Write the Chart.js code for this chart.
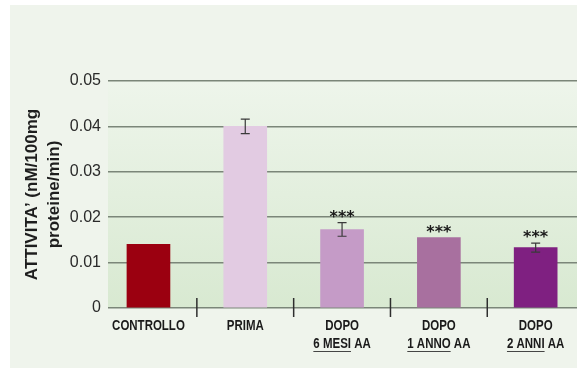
<!DOCTYPE html>
<html>
<head>
<meta charset="utf-8">
<script src="https://cdn.jsdelivr.net/npm/chart.js@4.4.1/dist/chart.umd.min.js"></script>
<style>
  html, body { margin: 0; padding: 0; background: #ffffff; overflow: hidden; }
  #panel { position: absolute; left: 10px; top: 5px; width: 567px; height: 363px; background: #eff4ec; }
  #wrap { position: absolute; left: 0; top: 0; width: 577px; height: 368px; }
</style>
</head>
<body>
<div id="panel"></div>
<div id="wrap"><canvas id="barchart" width="577" height="368"></canvas></div>
<script>
// gruppi e valori (media ± errore)
const gruppi = [['CONTROLLO'], ['PRIMA'], ['DOPO', '6 MESI AA'], ['DOPO', '1 ANNO AA'], ['DOPO', '2 ANNI AA']];
const sottolineato = ['', '', '6 MESI', '1 ANNO', '2 ANNI'];
const attivita = [0.014, 0.040, 0.0173, 0.0155, 0.0133];
const errori = [0, 0.0016, 0.0015, 0, 0.001];
const significativita = ['', '', '***', '***', '***'];
const coloriBarre = ['#9b0010', '#e2cbe2', '#c59bc7', '#a8709f', '#7f2081'];
const tickY = [0, 0.01, 0.02, 0.03, 0.04, 0.05];

const fontBase = "'Liberation Sans', Arial, sans-serif";
const padEtichette = 9;
const altRiga = 18;
const stretto = 0.82;   // etichette in stile "narrow"

// sfondo sfumato dell'area del grafico
const sfondoPlugin = {
  id: 'sfondo',
  beforeDraw(chart) {
    const { ctx, chartArea } = chart;
    const g = ctx.createLinearGradient(0, chartArea.top, 0, chartArea.bottom);
    g.addColorStop(0, '#eef5eb');
    g.addColorStop(1, '#d8e9d1');
    ctx.save();
    ctx.fillStyle = g;
    ctx.fillRect(chartArea.left, chartArea.top, chartArea.right - chartArea.left, chartArea.bottom - chartArea.top);
    ctx.restore();
  }
};

// barre di errore, asterischi, separatori ed etichette dei gruppi
const extraPlugin = {
  id: 'extra',
  afterDatasetsDraw(chart) {
    const { ctx } = chart;
    const x = chart.scales.x, y = chart.scales.y;
    ctx.save();
    attivita.forEach((v, i) => {
      const cx = x.getPixelForValue(i);
      const e = errori[i];
      let top = y.getPixelForValue(v);
      if (e > 0) {
        const y1 = y.getPixelForValue(v + e), y2 = y.getPixelForValue(v - e);
        ctx.strokeStyle = '#3a3a3a';
        ctx.lineWidth = 1.2;
        ctx.beginPath();
        ctx.moveTo(cx, y1); ctx.lineTo(cx, y2);
        ctx.moveTo(cx - 4.5, y1); ctx.lineTo(cx + 4.5, y1);
        ctx.moveTo(cx - 4.5, y2); ctx.lineTo(cx + 4.5, y2);
        ctx.stroke();
        top = y1;
      }
      if (significativita[i]) {
        ctx.fillStyle = '#1a1a1a';
        ctx.font = "bold 16px 'DejaVu Sans', sans-serif";
        ctx.textAlign = 'center';
        ctx.textBaseline = 'alphabetic';
        ctx.fillText(significativita[i], cx, top - 1);
      }
    });
    // separatori tra i gruppi
    ctx.strokeStyle = '#2e2e2e';
    ctx.lineWidth = 1.5;
    const base = y.getPixelForValue(0);
    for (let i = 0; i < gruppi.length - 1; i++) {
      const sx = x.getPixelForValue(i + 0.5);
      ctx.beginPath();
      ctx.moveTo(sx, base - 10);
      ctx.lineTo(sx, base + 9);
      ctx.stroke();
    }
    // etichette dei gruppi, compresse in orizzontale, con sottolineatura
    ctx.font = 'bold 14px ' + fontBase;
    ctx.fillStyle = '#1a1a1a';
    ctx.strokeStyle = '#333333';
    ctx.lineWidth = 1;
    ctx.textAlign = 'left';
    ctx.textBaseline = 'alphabetic';
    gruppi.forEach((righe, i) => {
      const cx = x.getPixelForValue(i);
      righe.forEach((riga, r) => {
        const w = ctx.measureText(riga).width * stretto;
        const ly = x.top + padEtichette + 13 + r * altRiga;
        ctx.save();
        ctx.translate(cx - w / 2, ly);
        ctx.scale(stretto, 1);
        ctx.fillText(riga, 0, 0);
        if (r === righe.length - 1 && sottolineato[i]) {
          const uw = ctx.measureText(sottolineato[i]).width;
          ctx.beginPath();
          ctx.moveTo(0, 3.5);
          ctx.lineTo(uw, 3.5);
          ctx.stroke();
        }
        ctx.restore();
      });
    });
    ctx.restore();
  }
};

const ctx = document.getElementById('barchart');
new Chart(ctx, {
  type: 'bar',
  data: {
    datasets: [{
      data: attivita.map((v, i) => ({ x: i, y: v })),
      backgroundColor: coloriBarre,
      borderWidth: 0,
      barThickness: 43
    }]
  },
  options: {
    responsive: false,
    animation: false,
    layout: { padding: { left: 10, top: 81, right: 0, bottom: 0 } },
    plugins: { legend: { display: false }, tooltip: { enabled: false } },
    scales: {
      x: {
        type: 'linear',
        offset: false,
        min: -0.418,
        max: 4.427,
        grid: { display: false, drawTicks: false },
        border: { display: false },
        afterBuildTicks(scale) { scale.ticks = gruppi.map((_, i) => ({ value: i })); },
        afterFit(scale) { scale.height = 60; },
        ticks: { display: false }
      },
      y: {
        min: 0,
        max: 0.05,
        afterBuildTicks(scale) { scale.ticks = tickY.map(v => ({ value: v })); },
        afterFit(scale) { scale.width = 98; },
        grid: { color: '#7b8679', lineWidth: 1.6, drawTicks: false },
        border: { display: false },
        ticks: {
          padding: 7,
          color: '#2a2a2a',
          font: { family: fontBase, size: 16 },
          callback: (v) => v === 0 ? '0' : v.toFixed(2)
        },
        title: {
          display: true,
          text: ['ATTIVITA’ (nM/100mg', 'proteine/min)'],
          color: '#1e1e1e',
          font: { family: fontBase, size: 17, weight: 'bold', lineHeight: 1.3 },
          padding: { top: 11, bottom: 0 }
        }
      }
    }
  },
  plugins: [sfondoPlugin, extraPlugin]
});
</script>
</body>
</html>
